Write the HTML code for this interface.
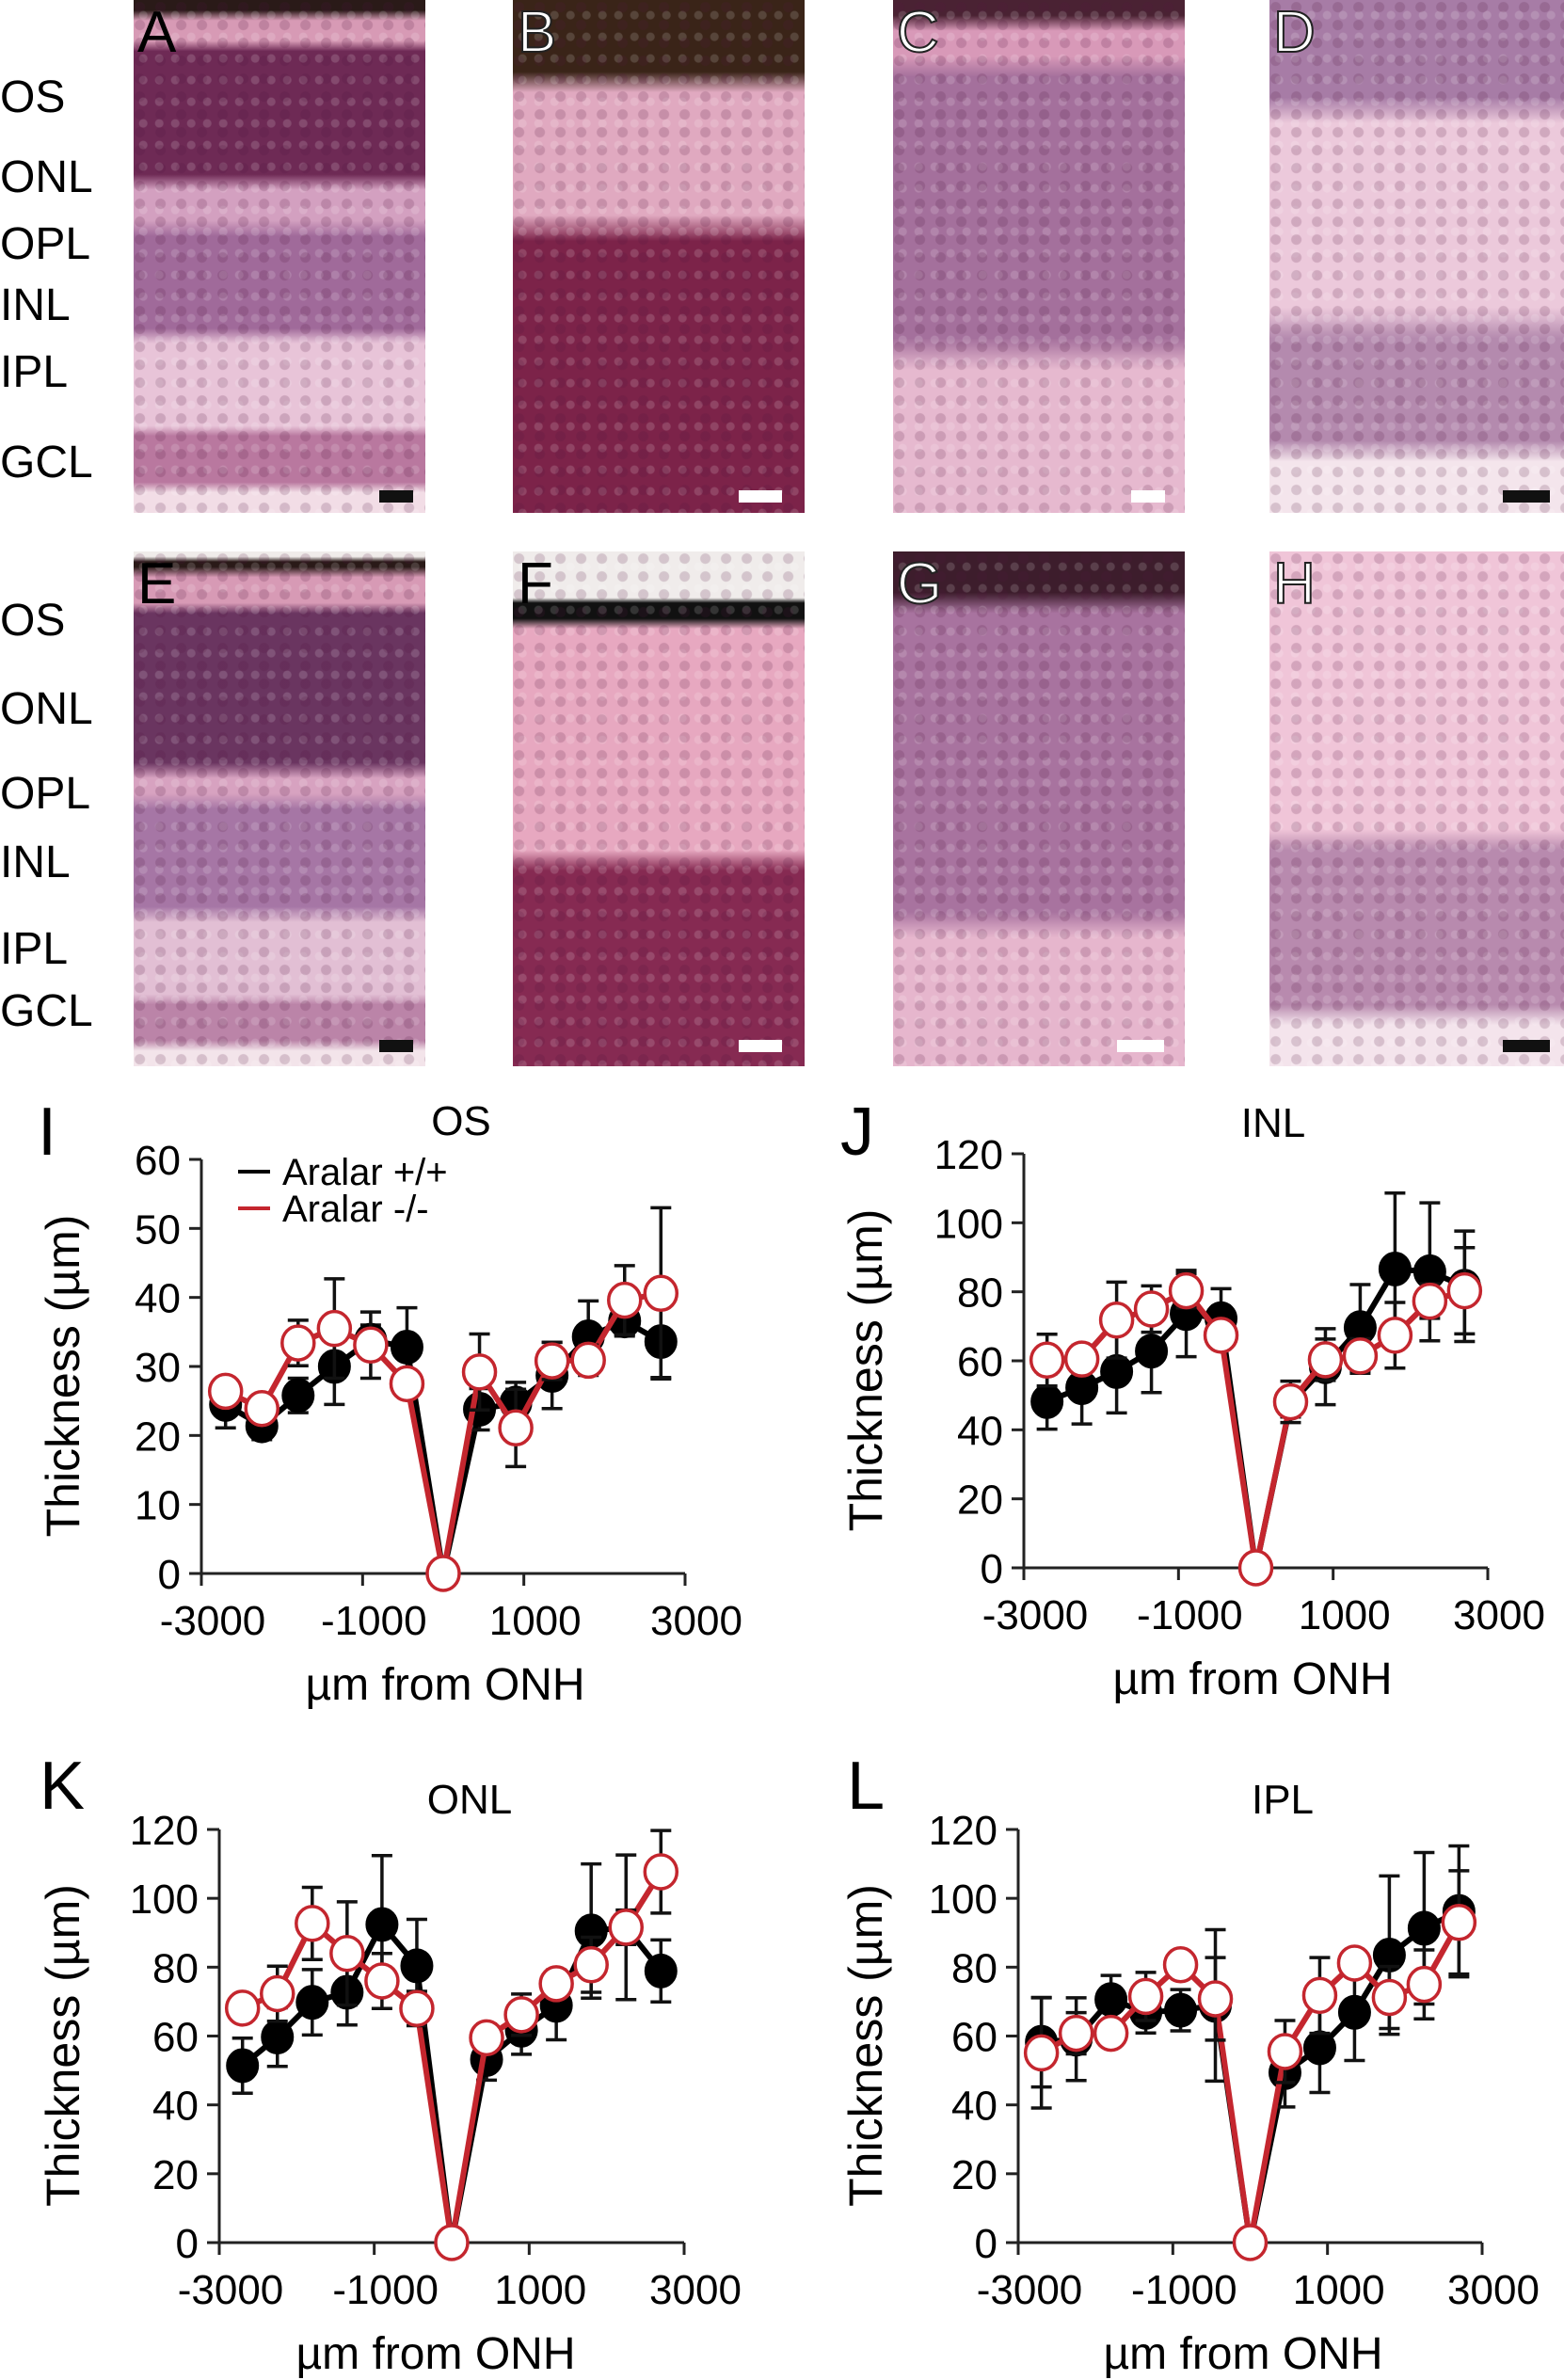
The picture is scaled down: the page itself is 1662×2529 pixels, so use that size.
<!DOCTYPE html>
<html><head><meta charset="utf-8">
<style>
html,body{margin:0;padding:0;background:#fff;}
#root{position:relative;width:1662px;height:2529px;overflow:hidden;font-family:"Liberation Sans",sans-serif;}
.ph{position:absolute;overflow:hidden;}
.ph::after{content:"";position:absolute;inset:0;background:
 radial-gradient(circle at 30% 40%,rgba(80,20,60,.18) 0 5px,transparent 6px) 0 0/22px 19px,
 radial-gradient(circle at 60% 70%,rgba(255,255,255,.15) 0 4px,transparent 5px) 0 0/17px 23px;}
.lbl{position:absolute;font-size:48px;color:#000;left:0;line-height:1;}
.pl{position:absolute;font-size:62px;line-height:1;z-index:2;}
.pl.w{color:#fff;-webkit-text-stroke:2px #222;}
.sb{position:absolute;width:36px;height:13px;z-index:2;}
</style></head><body>
<div id="root">
<!-- left layer labels -->
<div class="lbl" style="top:80px">OS</div>
<div class="lbl" style="top:165px">ONL</div>
<div class="lbl" style="top:236px">OPL</div>
<div class="lbl" style="top:301px">INL</div>
<div class="lbl" style="top:372px">IPL</div>
<div class="lbl" style="top:468px">GCL</div>
<div class="lbl" style="top:636px">OS</div>
<div class="lbl" style="top:730px">ONL</div>
<div class="lbl" style="top:820px">OPL</div>
<div class="lbl" style="top:893px">INL</div>
<div class="lbl" style="top:985px">IPL</div>
<div class="lbl" style="top:1051px">GCL</div>

<!-- photos row 1 -->
<div class="ph" style="left:142px;top:0;width:310px;height:545px;background:linear-gradient(#2a1a18 0 2%,#d79ab5 4% 8%,#6e2a55 10% 34%,#d3a0c0 37% 43%,#a06a9a 46% 64%,#e8c4d8 67% 83%,#b9789f 85% 94%,#f2dde6 96%);"></div>
<div class="ph" style="left:545px;top:0;width:310px;height:545px;background:linear-gradient(#3a2418 0 14%,#e0a9c0 18% 42%,#7c2349 47%);"></div>
<div class="ph" style="left:949px;top:0;width:310px;height:545px;background:linear-gradient(#4a2233 0 3%,#d899b8 6% 11%,#a4709c 15% 66%,#e6b9cf 72%);"></div>
<div class="ph" style="left:1349px;top:0;width:313px;height:545px;background:linear-gradient(#a77ca6 0 19%,#ecc9db 24% 60%,#b48aae 66% 86%,#f4e5ec 90%);"></div>
<!-- photos row 2 -->
<div class="ph" style="left:142px;top:586px;width:310px;height:547px;background:linear-gradient(#f0ecea 0 1%,#2a1a18 2% 3%,#d79ab5 5% 10%,#6a3560 12% 41%,#d7a2c0 44% 47%,#a676a5 50% 69%,#e2bfd4 72% 86%,#bb84a8 88% 95%,#f3e4ea 97%);"></div>
<div class="ph" style="left:545px;top:586px;width:310px;height:547px;background:linear-gradient(#f0eceb 0 9%,#111 10% 13%,#e7a8c0 15% 58%,#862a52 62%);"></div>
<div class="ph" style="left:949px;top:586px;width:310px;height:547px;background:linear-gradient(#3d1d2c 0 8%,#a8739f 12% 70%,#e6b6cd 75%);"></div>
<div class="ph" style="left:1349px;top:586px;width:313px;height:547px;background:linear-gradient(#f0c5d8 0 54%,#b88aae 58% 88%,#f4e4ec 92%);"></div>

<div class="pl" style="left:146px;top:4px;color:#000">A</div>
<div class="pl w" style="left:550px;top:4px">B</div>
<div class="pl w" style="left:953px;top:4px">C</div>
<div class="pl w" style="left:1353px;top:4px">D</div>
<div class="pl" style="left:146px;top:590px;color:#000">E</div>
<div class="pl" style="left:550px;top:590px;color:#000">F</div>
<div class="pl w" style="left:953px;top:590px">G</div>
<div class="pl w" style="left:1353px;top:590px">H</div>

<div class="sb" style="left:403px;top:521px;background:#111"></div>
<div class="sb" style="left:785px;top:521px;background:#fff;width:46px"></div>
<div class="sb" style="left:1202px;top:521px;background:#fff"></div>
<div class="sb" style="left:1597px;top:521px;background:#111;width:50px"></div>
<div class="sb" style="left:403px;top:1105px;background:#111"></div>
<div class="sb" style="left:785px;top:1105px;background:#fff;width:46px"></div>
<div class="sb" style="left:1187px;top:1105px;background:#fff;width:50px"></div>
<div class="sb" style="left:1597px;top:1105px;background:#111;width:50px"></div>

<svg id="charts" width="1662" height="2529" style="position:absolute;left:0;top:0"></svg>
</div>
<script>
const positions = [-2700,-2250,-1800,-1350,-900,-450,0,450,900,1350,1800,2250,2700];
const xTickLabels = ["-3000","-1000","1000","3000"];
const xTickValues = [-3000,-1000,1000,3000];

const osWT = [24.5,21.4,25.8,30,33.8,32.8,0,23.8,24.7,28.7,34.3,36.6,33.6];
const osWTErr = [3.4,2,2.5,5.5,2.2,5.7,0,3,3,4.8,5.2,2.2,5.2];
const osKO = [26.4,23.9,33.4,35.5,33.1,27.5,0,29.2,21.1,30.8,30.9,39.6,40.6];
const osKOErr = [1,1,3.3,7.2,4.8,1,0,5.5,5.6,2.7,2.2,5,12.4];

const inlWT = [48.2,52.2,56.9,62.8,73.7,72.2,0,47.7,58.3,69.6,86.6,85.8,81.6];
const inlWTErr = [8,10.5,12,12,12.5,8.7,0,4,11,12.5,22,20,16];
const inlKO = [60.2,60.5,71.8,75,80.3,67.4,0,48.1,60.3,61.4,67.4,77.3,80.3];
const inlKOErr = [7.5,4,11,6.7,5,3,0,6,6,5,9.5,5,12.5];

const onlWT = [51.4,59.7,69.8,72.7,92.4,80.4,0,53.2,61.7,68.9,90.5,91.6,78.9];
const onlWTErr = [8,8.5,9.5,9.5,20,13.5,0,6,7,10,19.5,21,9];
const onlKO = [68.1,72.3,92.7,84,76,68,0,59.5,66.2,75.2,80.7,91.6,107.7];
const onlKOErr = [2,8,10.5,15,8,5,0,4,6,4,8,5,12];

const iplWT = [58.2,59.1,70.6,66.9,67.5,68.9,0,49.4,56.6,66.9,83.5,91.3,96.2];
const iplWTErr = [13,12,7,6,6,22,0,10,13,14,23,22,19];
const iplKO = [55.1,60.8,60.8,71.5,80.7,70.8,0,55.5,71.8,81.2,71.2,75,93];
const iplKOErr = [16,6,3,7,3,12,0,9,11,3,9,10,15];

const yTicksOS = [0,10,20,30,40,50,60];
const yTicksBig = [0,20,40,60,80,100,120];

const NS='http://www.w3.org/2000/svg';
const svg=document.getElementById('charts');
const RED='#c4262e';
function mk(tag,attrs,parent){const e=document.createElementNS(NS,tag);for(const k in attrs)e.setAttribute(k,attrs[k]);(parent||svg).appendChild(e);return e;}

function chart(cfg){
  const g=mk('g',{});
  
  
  const xs=v=>cfg.xl+(v+3000)/6000*(cfg.xr-cfg.xl);
  const ys=v=>cfg.y0-v/cfg.yMax*(cfg.y0-cfg.yTop);
  // axes
  const ax=mk('path',{d:`M${cfg.xl},${cfg.yTop} V${cfg.y0} M${cfg.xl-13},${cfg.y0} H${cfg.xr}`,stroke:'#222',fill:'none','stroke-width':3},g);
  
  
  cfg.yTicks.forEach(t=>{
    const y=ys(t);
    mk('line',{x1:cfg.xl-13,x2:cfg.xl,y1:y,y2:y,stroke:'#222','stroke-width':3},g);
    const tx=mk('text',{x:cfg.xl-22,y:y+16,'text-anchor':'end','font-size':44},g);
    tx.textContent=t;
    
    
  });
  xTickValues.forEach((t,i)=>{
    const x=xs(t);
    mk('line',{x1:x,x2:x,y1:cfg.y0,y2:cfg.y0+13,stroke:'#222','stroke-width':3},g);
    const tx=mk('text',{x:x+12,y:cfg.y0+65,'text-anchor':'middle','font-size':44},g);
    tx.textContent=xTickLabels[i];
    
    
  });
  const xt=mk('text',{x:cfg.xtx,y:cfg.y0+134,'text-anchor':'middle','font-size':48},g);
  xt.textContent='\u00b5m from  ONH';
  
  
  const ym=(cfg.y0+cfg.yTop)/2+10;
  const yt=mk('text',{x:0,y:0,'text-anchor':'middle','font-size':50,transform:`translate(${cfg.ytx},${ym}) rotate(-90)`},g);
  yt.textContent='Thickness (\u00b5m)';
  
  
  const ti=mk('text',{x:cfg.tx,y:cfg.ty,'text-anchor':'middle','font-size':44},g);
  ti.textContent=cfg.title;
  
  
  const pl=mk('text',{x:cfg.lx,y:cfg.ly,'font-size':72},g);
  pl.textContent=cfg.letter;
  
  

  function series(vals,errs,color,open,nm){
    const sg=mk('g',{},g);
    
    
    const pts=positions.map((p,i)=>xs(p)+','+ys(vals[i])).join(' ');
    const ln=mk('polyline',{points:pts,fill:'none',stroke:color,'stroke-width':6,'stroke-linejoin':'round'},sg);
    
    
    positions.forEach((p,i)=>{
      if(errs[i]>0){
        const x=xs(p),a=ys(vals[i]+errs[i]),b=ys(vals[i]-errs[i]);
        const eb=mk('path',{d:`M${x},${a} V${b} M${x-11},${a} H${x+11} M${x-11},${b} H${x+11}`,stroke:'#111','stroke-width':3.5,fill:'none'},sg);
        
        
      }
    });
    positions.forEach((p,i)=>{
      const c=mk('ellipse',{cx:xs(p),cy:ys(vals[i]),rx:17,ry:18,fill:open?'#fff':'#000',stroke:open?RED:'#000','stroke-width':open?3.5:1},sg);
      
      
    });
  }
  series(cfg.wt,cfg.wtErr,'#000',false,'series-aralar-wt');
  series(cfg.ko,cfg.koErr,RED,true,'series-aralar-ko');
  if(cfg.legend){
    const lg=mk('g',{},g);
    
    
    mk('line',{x1:253,x2:287,y1:1245,y2:1245,stroke:'#000','stroke-width':4},lg);
    mk('line',{x1:253,x2:287,y1:1284,y2:1284,stroke:RED,'stroke-width':4},lg);
    const t1=mk('text',{x:300,y:1259,'font-size':40},lg);t1.textContent='Aralar +/+';
    
    
    const t2=mk('text',{x:300,y:1298,'font-size':40},lg);t2.textContent='Aralar -/-';
    
    
  }
}
chart({name:'chart-os',letter:'I',lx:40,ly:1227,title:'OS',tx:490,ty:1206,xl:214,xr:728,y0:1672,yTop:1232,yMax:60,yTicks:yTicksOS,xtx:473,ytx:84,wt:osWT,wtErr:osWTErr,ko:osKO,koErr:osKOErr,legend:true});
chart({name:'chart-inl',letter:'J',lx:893,ly:1227,title:'INL',tx:1353,ty:1208,xl:1088,xr:1581,y0:1666,yTop:1226,yMax:120,yTicks:yTicksBig,xtx:1331,ytx:937,wt:inlWT,wtErr:inlWTErr,ko:inlKO,koErr:inlKOErr});
chart({name:'chart-onl',letter:'K',lx:42,ly:1922,title:'ONL',tx:499,ty:1927,xl:233,xr:727,y0:2383,yTop:1944,yMax:120,yTicks:yTicksBig,xtx:463,ytx:84,wt:onlWT,wtErr:onlWTErr,ko:onlKO,koErr:onlKOErr});
chart({name:'chart-ipl',letter:'L',lx:900,ly:1922,title:'IPL',tx:1363,ty:1927,xl:1082,xr:1575,y0:2383,yTop:1944,yMax:120,yTicks:yTicksBig,xtx:1321,ytx:937,wt:iplWT,wtErr:iplWTErr,ko:iplKO,koErr:iplKOErr});
</script>
</body></html>
